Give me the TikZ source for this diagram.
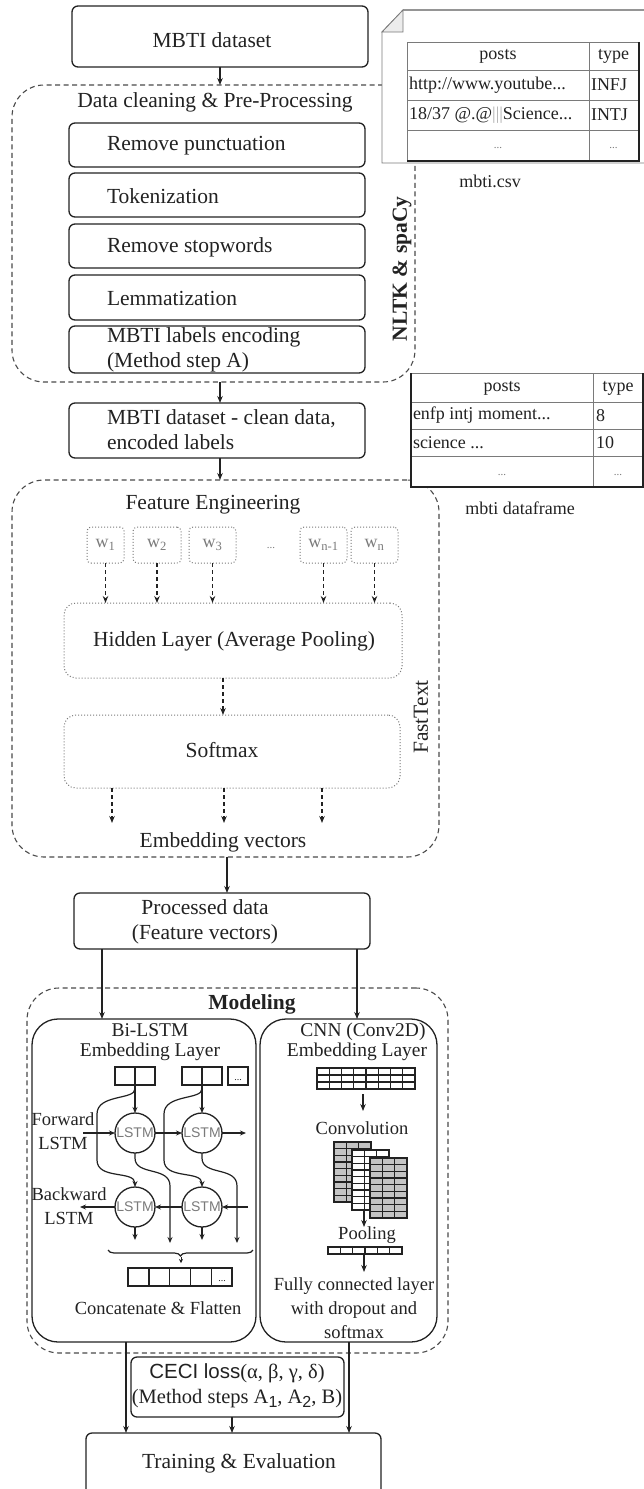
\documentclass[tikz,border=0pt]{standalone}
\usepackage{fontspec}
\setmainfont{Liberation Serif}
\setsansfont{Liberation Sans}
\usetikzlibrary{arrows.meta,decorations.pathreplacing}
\definecolor{ln}{HTML}{222222}
\definecolor{txt}{HTML}{222222}
\definecolor{dsh}{HTML}{4A4A4A}
\definecolor{gr}{HTML}{7A7A7A}
\definecolor{mapg}{HTML}{C4C4C4}
\newcommand{\fmain}{\fontsize{21.5}{25}\selectfont}
\newcommand{\fmid}{\fontsize{19.5}{20}\selectfont}
\newcommand{\fsm}{\fontsize{18.5}{24}\selectfont}
\newcommand{\ftab}{\fontsize{18}{20}\selectfont}
\newcommand{\lowsub}[1]{\raisebox{-4pt}{\sffamily\fontsize{16}{16}\selectfont #1}}
\newcommand{\mkbox}[7][]{\node[#1, minimum width={#5-#3}, minimum height={#6-#4}] (#2) at ({(#3+#5)/2},{(#4+#6)/2}) {#7};}
\newcommand{\cellgrid}[8]{%
  \filldraw[fill=#7, draw=ln, line width=#8] (#1,#2) rectangle (#3,#4);
  \pgfmathtruncatemacro{\gnc}{#5-1}%
  \pgfmathtruncatemacro{\gnr}{#6-1}%
  \ifnum\gnc>0 \foreach \gi in {1,...,\gnc}{\draw[draw=ln, line width=#8] ({#1+(#3-#1)*\gi/#5},#2) -- ({#1+(#3-#1)*\gi/#5},#4);}\fi
  \ifnum\gnr>0 \foreach \gj in {1,...,\gnr}{\draw[draw=ln, line width=#8] (#1,{#2+(#4-#2)*\gj/#6}) -- (#3,{#2+(#4-#2)*\gj/#6});}\fi
}
\tikzset{
  every node/.style={text=txt, inner sep=0pt, outer sep=0pt},
  tx/.style={font=\fmain},
  txs/.style={font=\fsm, align=center},
  pbox/.style={draw=ln, line width=1.3pt, rounded corners=6pt, fill=white},
  cont/.style={draw=dsh, line width=1.1pt, dash pattern=on 5pt off 3.5pt, rounded corners=32pt},
  panel/.style={draw=ln, line width=1.3pt, rounded corners=26pt},
  arr/.style={draw=ln, line width=1.1pt, -{Stealth[length=7pt,width=5.5pt]}},
  darr/.style={arr, dash pattern=on 4pt off 3pt},
  wbox/.style={draw=gr, line width=1pt, dotted, rounded corners=4pt},
  dbox/.style={draw=gr, line width=1pt, dotted, rounded corners=12pt},
  lstm/.style={circle, draw=ln, line width=1.3pt, minimum size=40pt, fill=white, font=\sffamily\fontsize{14}{14}\selectfont, text=gr},
  wire/.style={draw=ln, line width=1.2pt},
  wtip/.style={wire, -{Stealth[length=6pt,width=5pt]}},
  cellb/.style={draw=ln, line width=1.4pt},
}
\begin{document}
\begin{tikzpicture}[x=1pt,y=-1pt]
\useasboundingbox (0,0) rectangle (644,1489);

% ---------- containers ----------
\mkbox[cont]{c1}{12}{85}{415}{382}{}
\mkbox[cont]{c2}{12}{480}{439}{857}{}
\mkbox[cont]{c3}{27}{988}{448}{1353}{}

% ---------- top ----------
\mkbox[pbox]{mbti}{72}{6}{368}{67}{}
\node[tx] (mbtit) at (212,40) {MBTI dataset};
\coordinate (x220) at (220,0);
\draw[arr] (mbti.south -| x220) -- (c1.north -| x220);

\node[tx] (dct) at (215,102) {Data cleaning \& Pre-Processing};
\mkbox[pbox]{rp}{69}{123}{365}{167}{}
\node[tx, anchor=west] (rpt) at (107,146) {Remove punctuation};
\mkbox[pbox]{tok}{69}{173}{365}{217}{}
\node[tx, anchor=west] (tokt) at (107,196) {Tokenization};
\mkbox[pbox]{rs}{69}{224}{365}{268}{}
\node[tx, anchor=west] (rst) at (107,247) {Remove stopwords};
\mkbox[pbox]{lem}{69}{275}{365}{320}{}
\node[tx, anchor=west] (lemt) at (107,298) {Lemmatization};
\mkbox[pbox]{enc}{69}{326}{365}{373}{}
\node[tx, anchor=west, align=left] (enct) at (107,350) {MBTI labels encoding\\(Method step A)};
\node[font=\fmain\bfseries, rotate=90] (nltk) at (402,269) {NLTK \& spaCy};

\draw[arr] (c1.south -| x220) -- (220,403);
\mkbox[pbox]{clean}{69}{403}{365}{458}{}
\node[tx, anchor=west, align=left] (cleant) at (107,430) {MBTI dataset - clean data,\\encoded labels};
\draw[arr] (clean.south -| x220) -- (c2.north -| x220);

% ---------- table 1 ----------
\filldraw[fill=white, draw=gr, line width=0.8pt] (382,32) -- (403,10) -- (660,10) -- (660,163) -- (382,163) -- cycle;
\draw[draw=gr!80, line width=1.8pt] (403,10) -- (660,10);
\filldraw[fill=gray!15, draw=gr, line width=0.8pt] (382,32) -- (403,10) -- (403,32) -- cycle;
\draw[draw=gr, line width=0.8pt] (407,42) rectangle (638,160);
\draw[draw=gr, line width=0.8pt] (589,42) -- (589,160) (407,70) -- (638,70) (407,100) -- (638,100) (407,130) -- (638,130);
\draw[draw=ln, line width=2.4pt] (639,42) -- (639,161) -- (407,161);
\node[font=\ftab] (t1h1) at (498,56) {posts};
\node[font=\ftab] (t1h2) at (613.5,56) {type};
\node[font=\ftab, anchor=west] (t1a) at (409,85) {http://www.youtube...};
\node[font=\ftab, anchor=west] (t1b) at (591,85) {INFJ};
\node[font=\ftab, anchor=west] (t1c) at (409,115) {18/37 @.@{\color{gr!60}|||}Science...};
\node[font=\ftab, anchor=west] (t1d) at (591,115) {INTJ};
\node[font=\fontsize{11}{11}\selectfont, text=gr] (t1e) at (498,148) {...};
\node[font=\fontsize{11}{11}\selectfont, text=gr] (t1f) at (613.5,148) {...};
\node[font=\ftab] (t1cap) at (490,181) {mbti.csv};

% ---------- table 2 ----------
\filldraw[fill=white, draw=gr, line width=0.8pt] (411,373) rectangle (643,487);
\draw[draw=gr, line width=0.8pt] (593,373) -- (593,487) (411,402) -- (643,402) (411,429) -- (643,429) (411,456) -- (643,456);
\draw[draw=ln, line width=2.2pt] (411,373) -- (411,487) -- (643,487) -- (643,373);
\node[font=\ftab] (t2h1) at (502,388) {posts};
\node[font=\ftab] (t2h2) at (618,388) {type};
\node[font=\ftab, anchor=west] (t2a) at (413,415.5) {enfp intj moment...};
\node[font=\ftab, anchor=west] (t2b) at (596,415.5) {8};
\node[font=\ftab, anchor=west] (t2c) at (413,442.5) {science ...};
\node[font=\ftab, anchor=west] (t2d) at (596,442.5) {10};
\node[font=\fontsize{11}{11}\selectfont, text=gr] (t2e) at (502,475) {...};
\node[font=\fontsize{11}{11}\selectfont, text=gr] (t2f) at (618,475) {...};
\node[font=\ftab] (t2cap) at (520,508) {mbti dataframe};

% ---------- feature engineering ----------
\node[tx] (fet) at (213,505) {Feature Engineering};
\mkbox[wbox]{w1}{87}{527}{124}{563}{}
\mkbox[wbox]{w2}{133}{527}{181}{563}{}
\mkbox[wbox]{w3}{189}{527}{236}{563}{}
\mkbox[wbox]{wn1}{300}{527}{347}{563}{}
\mkbox[wbox]{wn}{351}{527}{398}{563}{}
\node[font=\ftab, text=gr] (w1t) at (w1) {w\textsubscript{1}};
\node[font=\ftab, text=gr] (w2t) at (w2) {w\textsubscript{2}};
\node[font=\ftab, text=gr] (w3t) at (w3) {w\textsubscript{3}};
\node[font=\ftab, text=gr] (wn1t) at (wn1) {w\textsubscript{n-1}};
\node[font=\ftab, text=gr] (wnt) at (wn) {w\textsubscript{n}};
\node[font=\fontsize{11}{11}\selectfont, text=gr] (wdots) at (271,548) {...};
\mkbox[dbox]{hid}{64}{603}{402}{678}{}
\node[tx] (hidt) at (234,641) {Hidden Layer (Average Pooling)};
\foreach \w in {w1,w2,w3,wn1,wn}{\draw[darr] (\w.south) -- (\w.south |- hid.north);}
\mkbox[dbox]{sm}{64}{715}{400}{788}{}
\node[tx] (smt) at (222,750) {Softmax};
\coordinate (x223) at (223,0);
\draw[darr] (hid.south -| x223) -- (sm.north -| x223);
\coordinate (e1) at (112,823);
\coordinate (e2) at (224,823);
\coordinate (e3) at (322,823);
\foreach \e in {e1,e2,e3}{\draw[darr] (sm.south -| \e) -- (\e);}
\node[tx] (embt) at (223,842) {Embedding vectors};
\node[tx, rotate=90] (ft) at (421,717) {FastText};

% ---------- processed ----------
\mkbox[pbox]{pd}{74}{893}{370}{949}{}
\node[tx, align=center] (pdt) at (205,922) {Processed data\\(Feature vectors)};
\coordinate (x227) at (227,0);
\draw[arr] (c2.south -| x227) -- (pd.north -| x227);

% ---------- modeling ----------
\node[font=\fmain\bfseries] (modt) at (252,1004) {Modeling};
\mkbox[panel]{bl}{32}{1019}{256}{1342}{}
\mkbox[panel]{cn}{260}{1019}{437}{1342}{}
\coordinate (x102) at (102,0);
\coordinate (x357) at (357,0);
\draw[arr] (pd.south -| x102) -- (bl.north -| x102);
\draw[arr] (pd.south -| x357) -- (cn.north -| x357);

% Bi-LSTM
\node[font=\fmid, align=center] (blt) at (150,1042) {Bi-LSTM\\Embedding Layer};
\mkbox[cellb]{eA}{115}{1067}{155}{1085}{}
\mkbox[cellb]{eB}{182}{1067}{222}{1085}{}
\mkbox[cellb]{eC}{228}{1067}{248}{1085}{}
\draw[cellb] (eA.north) -- (eA.south) (eB.north) -- (eB.south);
\node[font=\fontsize{10}{10}\selectfont] (eCt) at (238,1080) {...};
\node[lstm] (F1) at (135,1133) {LSTM};
\node[lstm] (F2) at (202,1133) {LSTM};
\node[lstm] (B1) at (135,1207) {LSTM};
\node[lstm] (B2) at (202,1207) {LSTM};
\draw[wtip] (eA.south) -- (F1.north);
\draw[wtip] (eB.south) -- (F2.north);
\draw[wtip] (135,1089) .. controls (135,1100) and (97,1094) .. (97,1114) -- (97,1160) .. controls (97,1180) and (135,1170) .. (B1.north);
\draw[wtip] (202,1089) .. controls (202,1100) and (164,1094) .. (164,1114) -- (164,1160) .. controls (164,1180) and (202,1170) .. (B2.north);
\coordinate (o1) at (170,1243);
\coordinate (o2) at (237,1243);
\coordinate (ob1) at (135,1240);
\coordinate (ob2) at (202,1240);
\draw[wtip] (F1.south) -- (135,1158) .. controls (135,1176) and (170,1166) .. (170,1186) -- (o1);
\draw[wtip] (F2.south) -- (202,1158) .. controls (202,1176) and (237,1166) .. (237,1186) -- (o2);
\draw[wtip] (B1.south) -- (ob1);
\draw[wtip] (B2.south) -- (ob2);
\coordinate (fin) at (83,1133);
\coordinate (fout) at (246,1133);
\coordinate (bin) at (248,1207);
\coordinate (bout) at (80,1207);
\draw[wtip] (fin) -- (F1.west);
\draw[wtip] (F1.east) -- (F2.west);
\draw[wtip] (F2.east) -- (fout);
\draw[wtip] (bin) -- (B2.east);
\draw[wtip] (B2.west) -- (B1.east);
\draw[wtip] (B1.west) -- (bout);
\node[font=\fsm, align=center] (fwt) at (63,1131) {Forward\\LSTM};
\node[font=\fsm, align=center] (bwt) at (69,1206) {Backward\\LSTM};
\coordinate (brl) at (108,1250);
\coordinate (brr) at (253,1250);
\draw[wire, decorate, decoration={brace, mirror, amplitude=6pt}] (brl) -- (brr);
\coordinate (brt) at (181,1257);
\coordinate (brb) at (181,1263);
\draw[draw=ln, line width=1pt, -{Stealth[length=4pt,width=4pt]}] (brt) -- (brb);
\cellgrid{128}{1268}{232}{1286}{5}{1}{white}{1.4pt}
\node[font=\fontsize{10}{10}\selectfont] (flt) at (222,1281) {...};
\node[font=\fsm] (cft) at (158,1308) {Concatenate \& Flatten};

% CNN
\node[font=\fmid, align=center] (cnt) at (357,1042) {\hspace*{12pt}CNN (Conv2D)\\Embedding Layer};
\cellgrid{317}{1068}{415}{1089}{8}{3}{white}{1.1pt}
\coordinate (cv1) at (363,1094);
\coordinate (cv2) at (363,1111);
\draw[arr] (cv1) -- (cv2);
\node[font=\fsm] (convt) at (362,1128) {Convolution};
\cellgrid{334}{1142}{371}{1202}{3}{9}{mapg}{1.1pt}
\cellgrid{352}{1150}{389}{1210}{3}{9}{white}{1.1pt}
\cellgrid{370}{1158}{407}{1218}{3}{9}{mapg}{1.1pt}
\coordinate (pl1) at (364,1210);
\coordinate (pl2) at (364,1227);
\draw[arr] (pl1) -- (pl2);
\node[font=\fsm] (poolt) at (367,1235) {Pooling};
\cellgrid{328}{1247}{402}{1254}{6}{1}{white}{1.1pt}
\coordinate (fc1) at (364,1255);
\coordinate (fc2) at (364,1272);
\draw[arr] (fc1) -- (fc2);
\node[font=\fsm, align=center] (fct) at (354,1308) {Fully connected layer\\with dropout and\\softmax};

% ---------- bottom ----------
\mkbox[pbox]{ceci}{131}{1357}{344}{1417}{}
\node[font=\fontsize{20.5}{25}\selectfont, align=center] (cecit) at (237,1386) {{\sffamily CECI loss}(α, β, γ, δ)\\(Method steps A\lowsub{1}, A\lowsub{2}, B)};
\mkbox[pbox]{tr}{86}{1433}{381}{1510}{}
\node[tx] (trt) at (239,1463) {Training \& Evaluation};
\coordinate (x126) at (126,0);
\coordinate (x349) at (349,0);
\coordinate (x232) at (232,0);
\draw[arr] (bl.south -| x126) -- (tr.north -| x126);
\draw[arr] (cn.south -| x349) -- (tr.north -| x349);
\draw[arr] (ceci.south -| x232) -- (tr.north -| x232);
\end{tikzpicture}
\end{document}
